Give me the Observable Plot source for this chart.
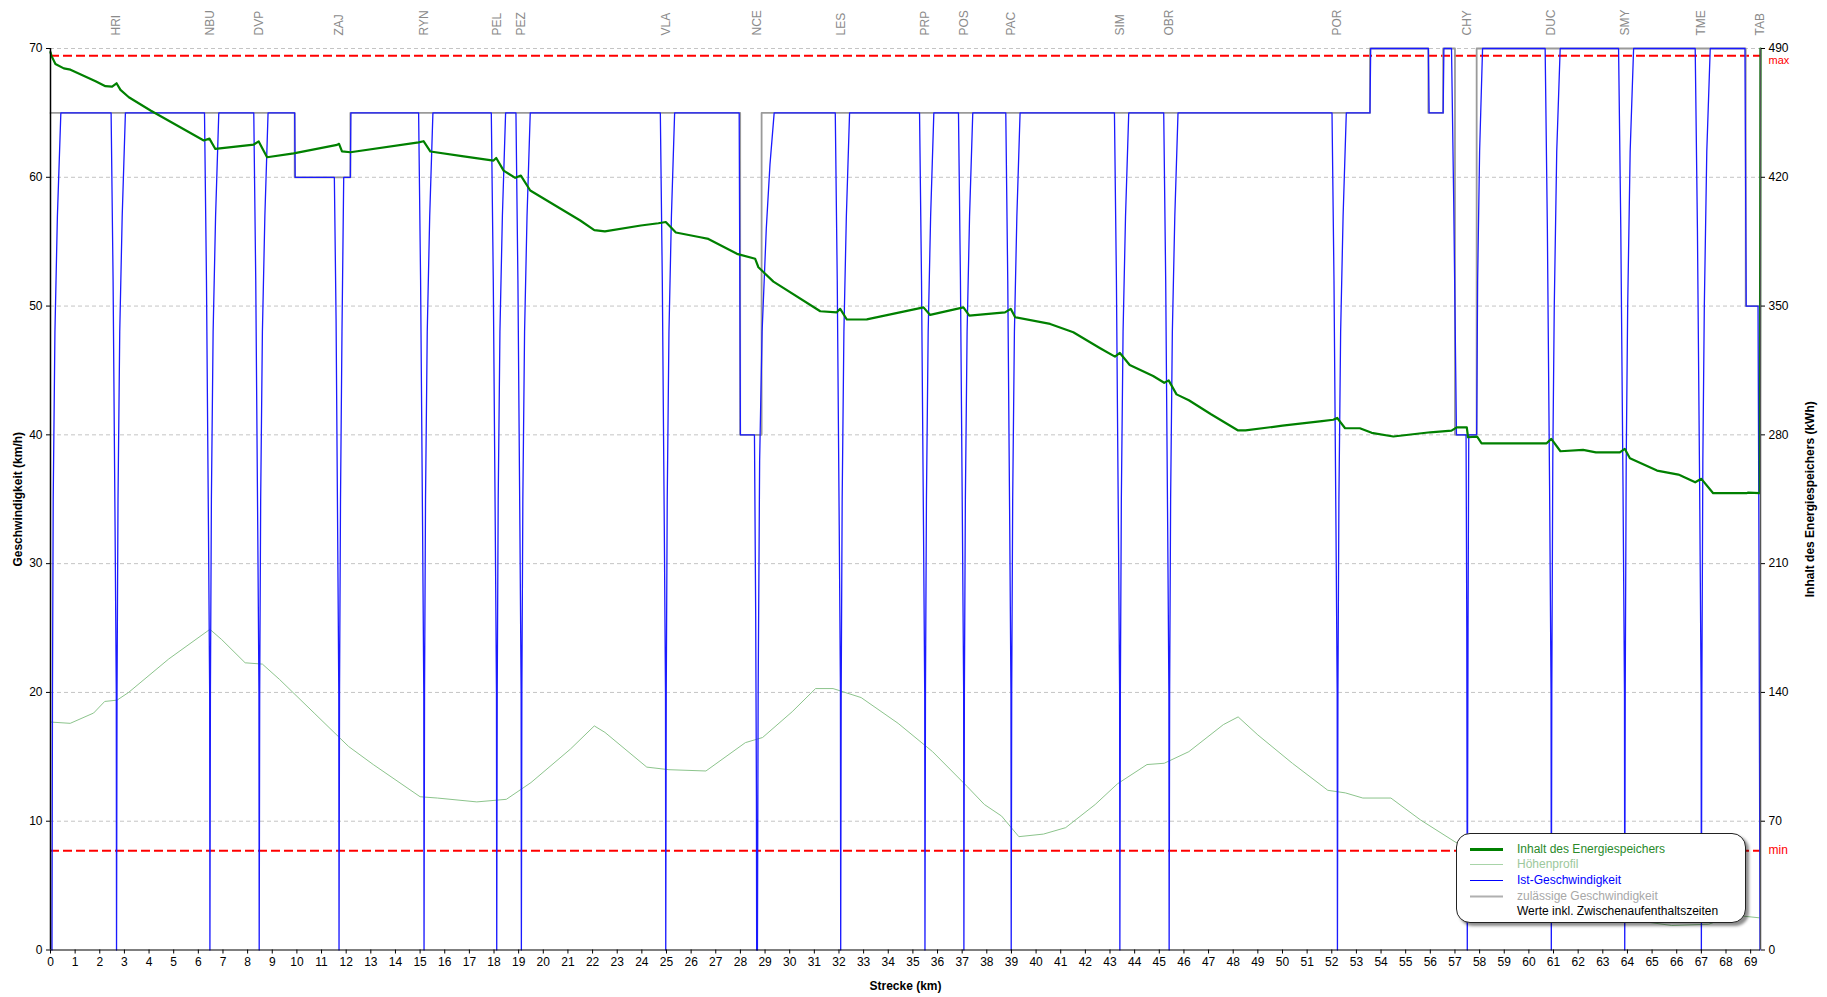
<!DOCTYPE html>
<html><head><meta charset="utf-8">
<script src="https://cdn.jsdelivr.net/npm/d3@7"></script>
<script src="https://cdn.jsdelivr.net/npm/@observablehq/plot@0.6"></script>
<style>
html,body{margin:0;padding:0;background:#fff;}
#wrap{position:relative;width:1827px;height:997px;font-family:"Liberation Sans",Arial,sans-serif;}
#legend{position:absolute;left:1456px;top:833px;width:290px;height:90px;border:1.5px solid #222;border-radius:14px;background:#fff;box-shadow:3px 3px 3px rgba(0,0,0,0.45);box-sizing:border-box;font-size:12px;}
#legend .row{position:absolute;left:0;height:15px;line-height:15px;white-space:nowrap;}
#legend .row svg{position:absolute;left:13px;top:0;}
#legend .row span{position:absolute;left:60px;top:0;}
g[aria-label="x-axis label"] text, g[aria-label="y-axis label"] text{font-weight:bold;}
</style>
</head><body>
<div id="wrap"></div>
<script>
// ---- data ----
const stationNames = ["HRI","NBU","DVP","ZAJ","RYN","PEL","PEZ","VLA","NCE","LES","PRP","POS","PAC","SIM","OBR","POR","CHY","DUC","SMY","TME","TAB"];
const stationKm = [2.68,6.47,8.47,11.71,15.16,18.11,19.11,24.97,28.66,32.07,35.49,37.07,38.99,43.40,45.40,52.23,57.50,60.91,63.89,67.00,69.38];

const kmTicks = d3.range(0, 70, 1);
const speedTicks = [0,10,20,30,40,50,60,70];
const kwhPerUnit = 7; // right axis 0..490 kWh aligned with 0..70 km/h
const maxKwh = 486;
const minKwh = 54;

// zulässige Geschwindigkeit [km, km/h]
const zulaessig = [[0,65],[9.91,65],[9.91,60],[12.17,60],[12.17,65],[27.99,65],[27.99,40],[28.86,40],[28.86,65],
[53.55,65],[53.55,70],[55.92,70],[55.92,65],[56.52,65],[56.52,70],[57.0,70],[57.0,40],[57.88,40],[57.88,70],
[68.8,70],[68.8,50],[69.38,50]];

// Ist-Geschwindigkeit [km, km/h]
const istSpeed = [
[0.06,0],[0.08,20],[0.11,35],[0.18,48],[0.28,57],[0.42,65],
[2.46,65],[2.54,52],[2.62,33],[2.67,20],[2.68,0],[2.70,20],[2.74,35],[2.81,48],[2.91,57],[3.04,65],
[6.25,65],[6.33,52],[6.41,33],[6.46,20],[6.47,0],[6.49,20],[6.53,35],[6.60,48],[6.70,57],[6.83,65],
[8.25,65],[8.33,52],[8.41,33],[8.46,20],[8.47,0],[8.49,20],[8.53,35],[8.60,48],[8.70,57],[8.83,65],
[9.91,65],[9.93,60],
[11.52,60],[11.59,49],[11.66,31],[11.70,20],[11.71,0],[11.73,20],[11.77,35],[11.83,48],[11.90,60],
[12.17,60],[12.19,65],
[14.94,65],[15.02,52],[15.10,33],[15.15,20],[15.16,0],[15.18,20],[15.22,35],[15.29,48],[15.39,57],[15.52,65],
[17.89,65],[17.97,52],[18.05,33],[18.10,20],[18.11,0],[18.13,20],[18.17,35],[18.24,48],[18.34,57],[18.47,65],
[18.89,65],[18.97,52],[19.05,33],[19.10,20],[19.11,0],[19.13,20],[19.17,35],[19.24,48],[19.34,57],[19.47,65],
[24.75,65],[24.83,52],[24.91,33],[24.96,20],[24.97,0],[24.99,20],[25.03,35],[25.10,48],[25.20,57],[25.33,65],
[27.95,65],[28.00,40],[28.57,40],[28.62,26],[28.65,12],[28.66,0],[28.69,0],[28.72,20],[28.78,38],[28.88,48],[29.05,56],[29.20,61],[29.37,65],
[31.85,65],[31.93,52],[32.01,33],[32.06,20],[32.07,0],[32.09,20],[32.13,35],[32.20,48],[32.30,57],[32.43,65],
[35.27,65],[35.35,52],[35.43,33],[35.48,20],[35.49,0],[35.51,20],[35.55,35],[35.62,48],[35.72,57],[35.85,65],
[36.85,65],[36.93,52],[37.01,33],[37.06,20],[37.07,0],[37.09,20],[37.13,35],[37.20,48],[37.30,57],[37.43,65],
[38.77,65],[38.85,52],[38.93,33],[38.98,20],[38.99,0],[39.01,20],[39.05,35],[39.12,48],[39.22,57],[39.35,65],
[43.18,65],[43.26,52],[43.34,33],[43.39,20],[43.40,0],[43.42,20],[43.46,35],[43.53,48],[43.63,57],[43.76,65],
[45.18,65],[45.26,52],[45.34,33],[45.39,20],[45.40,0],[45.42,20],[45.46,35],[45.53,48],[45.63,57],[45.76,65],
[52.01,65],[52.09,52],[52.17,33],[52.22,20],[52.23,0],[52.25,20],[52.29,35],[52.36,48],[52.46,57],[52.59,65],
[53.55,65],[53.58,70],
[55.92,70],[55.95,65],[56.52,65],[56.55,70],
[56.86,70],[56.95,58],[57.03,45],[57.06,40],[57.45,40],[57.48,25],[57.50,0],[57.53,25],[57.56,40],[57.88,40],[57.92,52],[58.00,62],[58.12,70],
[60.66,70],[60.75,56],[60.84,36],[60.90,20],[60.91,0],[60.93,20],[60.97,38],[61.03,50],[61.13,62],[61.27,70],
[63.64,70],[63.73,56],[63.82,36],[63.88,20],[63.89,0],[63.91,20],[63.95,38],[64.01,50],[64.11,62],[64.25,70],
[66.75,70],[66.84,56],[66.93,36],[66.99,20],[67.00,0],[67.02,20],[67.06,38],[67.12,50],[67.22,62],[67.36,70],
[68.77,70],[68.82,50],[69.30,50],[69.34,30],[69.38,0]
];

// Inhalt des Energiespeichers [km, kWh]
const energie = [
[0,488],[0.04,486],[0.2,481.6],[0.54,479.2],[0.81,478.5],[1.83,472.2],[2.23,469.5],[2.5,469.3],[2.68,471.1],[2.84,467.5],
[3.18,463.5],[4.06,456.3],[6.22,440],[6.45,441],[6.69,435.4],[8.25,437.8],[8.45,439.5],[8.79,430.9],[9.87,433],
[11.63,437.6],[11.71,438.2],[11.83,434.1],[12.17,433.6],[14.94,439],[15.14,439.6],[15.42,434],[16.77,431.4],
[17.98,429.1],[18.09,430.5],[18.39,423.6],[18.86,419.7],[19.09,420.9],[19.47,412.8],[21.5,396.5],[22.07,391.3],
[22.5,390.6],[23.96,393.8],[24.67,395],[24.97,395.7],[25.38,390],[26.37,387.4],[26.7,386.5],[27.86,378.4],
[28.6,375.7],[28.73,371.1],[29.34,363.3],[31.24,347.2],[31.91,346.6],[32.05,348.5],[32.32,342.7],[33.13,342.8],
[35.43,349.3],[35.7,345.2],[37.05,349.3],[37.29,344.8],[38.74,346.6],[38.97,348.5],[39.15,343.9],[40.57,340.3],
[41.51,335.8],[42.6,327.1],[43.2,322.5],[43.4,324.5],[43.8,318],[44.75,312],[45.2,308.3],[45.38,309.6],[45.7,302],
[46.2,298.8],[47.1,291.2],[48.2,282.4],[48.5,282.4],[50,285],[51.6,287.5],[52.06,288.2],[52.22,289.2],[52.54,283.6],
[53.14,283.6],[53.62,281.1],[54.5,279.1],[56.0,281.4],[56.86,282.3],[57.07,284.1],[57.48,284.1],[57.53,278.7],
[57.9,279],[58.08,275.4],[60.72,275.4],[60.91,277.8],[61.28,271.1],[62.2,271.8],[62.72,270.5],[63.69,270.5],
[63.89,272.4],[64.1,267.3],[65.2,260.6],[66.07,258.4],[66.75,254.2],[67.0,256.1],[67.48,248.3],[68.83,248.3],
[68.9,248.6],[69.37,248.3],[69.4,490]
];

// Höhenprofil (drawn in chart units)
const hoehe = [[0,17.7],[0.8,17.6],[1.75,18.4],[2.2,19.3],[2.7,19.4],[3.17,20],[4.8,22.6],[6.47,24.9],[6.95,24.1],
[7.9,22.3],[8.6,22.2],[9.3,21],[10.7,18.4],[12.1,15.8],[13.1,14.4],[15.0,11.9],[15.7,11.8],[17.3,11.5],[18.5,11.7],
[19.5,13],[21.1,15.6],[22.07,17.4],[22.5,16.9],[24.2,14.2],[25.1,14.0],[26.6,13.9],[28.2,16.1],[28.9,16.5],
[30.1,18.5],[31.05,20.3],[31.76,20.3],[32.9,19.6],[34.4,17.6],[35.8,15.4],[37.2,12.7],[37.9,11.3],[38.6,10.4],
[39.3,8.8],[40.3,9.0],[41.2,9.5],[42.4,11.3],[43.3,12.9],[44.5,14.4],[45.2,14.5],[46.2,15.4],[47.6,17.5],[48.2,18.1],
[49.0,16.7],[50.4,14.5],[51.84,12.4],[52.55,12.2],[53.26,11.8],[54.4,11.8],[55.6,10.1],[57.0,8.4],[58.3,7.0],
[59.8,5.6],[61.3,4.4],[62.8,3.3],[64.3,2.3],[65.8,1.9],[67.3,2.0],[68.3,2.7],[68.85,2.6],[69.35,2.5]];

const legendItems = [
  {label:"Inhalt des Energiespeichers", color:"#2a8a2a", line:"#008000", w:3},
  {label:"Höhenprofil", color:"#9cc89c", line:"#a8d4a8", w:1.2},
  {label:"Ist-Geschwindigkeit", color:"#0000ff", line:"#0000ff", w:1.2},
  {label:"zulässige Geschwindigkeit", color:"#a8a8a8", line:"#b0b0b0", w:2},
  {label:"Werte inkl. Zwischenaufenthaltszeiten", color:"#000", line:null, w:0}
];

const stations = stationNames.map((n,i)=>({name:n, km:stationKm[i]}));
const xMax = 69.4;

const chart = Plot.plot({
  width: 1827, height: 997,
  marginLeft: 50, marginRight: 67, marginTop: 48, marginBottom: 47.5,
  x: {domain:[0, xMax]},
  y: {domain:[0, 70]},
  style: {fontFamily:"Liberation Sans, Arial, sans-serif", fontSize:"12px", background:"#fff", color:"#000"},
  marks: [
    Plot.gridY(speedTicks.filter(d=>d>0), {stroke:"#c4c4c4", strokeOpacity:1, strokeDasharray:"4,3"}),
    Plot.ruleY([maxKwh/kwhPerUnit], {stroke:"#ff0000", strokeWidth:2, strokeDasharray:"9,4"}),
    Plot.ruleY([minKwh/kwhPerUnit], {stroke:"#ff0000", strokeWidth:2, strokeDasharray:"9,4"}),
    Plot.line(hoehe, {x:d=>d[0], y:d=>d[1], stroke:"#8cc48c", strokeWidth:1}),
    Plot.line(zulaessig, {x:d=>d[0], y:d=>d[1], stroke:"#9a9a9a", strokeWidth:1.8}),
    Plot.line(istSpeed, {x:d=>d[0], y:d=>d[1], stroke:"#1a1aff", strokeWidth:1.3}),
    Plot.line(energie, {x:d=>d[0], y:d=>d[1]/kwhPerUnit, stroke:"#008000", strokeWidth:2.2}),
    Plot.ruleX([0], {stroke:"#000", strokeWidth:1.5}),
    Plot.ruleX([xMax], {stroke:"#555", strokeWidth:1.5}),
    Plot.ruleY([0], {stroke:"#000", strokeWidth:1.2}),
    Plot.axisX({ticks:kmTicks, tickSize:4, tickPadding:3, tickFormat:d=>String(d), label:"Strecke (km)", labelAnchor:"center", labelArrow:"none", labelOffset:40}),
    Plot.axisY({anchor:"left", ticks:speedTicks, tickSize:4, tickPadding:4, label:"Geschwindigkeit (km/h)", labelAnchor:"center", labelArrow:"none", labelOffset:37}),
    Plot.axisY({anchor:"right", ticks:speedTicks, tickSize:4, tickPadding:4, tickFormat:d=>String(d*kwhPerUnit), label:"Inhalt des Energiespeichers (kWh)", labelAnchor:"center", labelArrow:"none", labelOffset:53}),
    Plot.text(stations, {x:"km", text:"name", frameAnchor:"top", dy:-13, rotate:-90, textAnchor:"start", lineAnchor:"middle", fill:"#8a8a8a", fontSize:12}),
    Plot.text(["max"], {x:()=>xMax, y:()=>maxKwh/kwhPerUnit, text:d=>d, dx:8, dy:5, textAnchor:"start", fill:"#ff0000", fontSize:11}),
    Plot.text(["min"], {x:()=>xMax, y:()=>minKwh/kwhPerUnit, text:d=>d, dx:8, textAnchor:"start", fill:"#ff0000", fontSize:12})
  ]
});

const wrap = document.getElementById("wrap");
wrap.appendChild(chart);

// legend overlay
const lg = document.createElement("div");
lg.id = "legend";
const rowTops = [8, 23, 39, 54.5, 70];
legendItems.forEach((it,i)=>{
  const r = document.createElement("div");
  r.className = "row";
  r.style.top = rowTops[i] + "px";
  r.style.width = "100%";
  if (it.line) {
    r.innerHTML = `<svg width="34" height="15"><line x1="0" x2="33" y1="7.5" y2="7.5" stroke="${it.line}" stroke-width="${it.w}"/></svg>`;
  }
  const s = document.createElement("span");
  s.textContent = it.label;
  s.style.color = it.color;
  r.appendChild(s);
  lg.appendChild(r);
});
wrap.appendChild(lg);
</script>
</body></html>
